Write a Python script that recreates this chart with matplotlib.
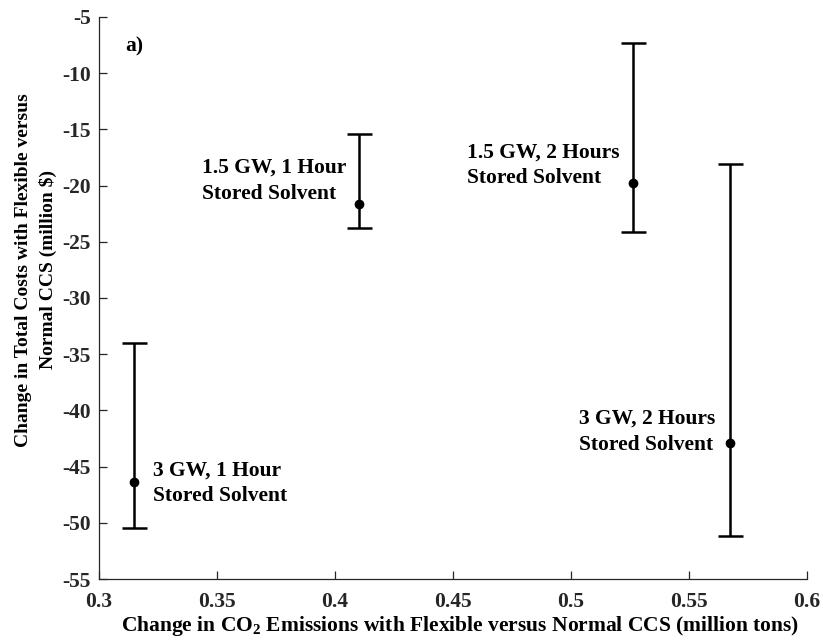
import matplotlib
matplotlib.use('Agg')
import matplotlib.pyplot as plt

plt.rcParams['font.family'] = ['Liberation Serif', 'DejaVu Serif']
plt.rcParams['font.weight'] = 'bold'
plt.rcParams['axes.unicode_minus'] = False
plt.rcParams['mathtext.fontset'] = 'custom'
plt.rcParams['mathtext.rm'] = 'Liberation Serif:bold'
plt.rcParams['mathtext.bf'] = 'Liberation Serif:bold'
plt.rcParams['mathtext.default'] = 'rm'

# data
co2 = [0.3148, 0.4103, 0.5264, 0.5674]
cost = [-46.4, -21.6, -19.8, -42.9]
cost_hi = [-34.0, -15.4, -7.3, -18.1]
cost_lo = [-50.5, -23.8, -24.1, -51.2]
names = ['3 GW, 1 Hour\nStored Solvent',
         '1.5 GW, 1 Hour\nStored Solvent',
         '1.5 GW, 2 Hours\nStored Solvent',
         '3 GW, 2 Hours\nStored Solvent']
label_x = [0.3229, 0.3436, 0.4559, 0.5035]
label_y = [-46.5, -19.6, -18.2, -41.9]

err_lo = [c - l for c, l in zip(cost, cost_lo)]
err_hi = [h - c for c, h in zip(cost, cost_hi)]

fs = 15.5

fig = plt.figure(figsize=(8.23, 6.43), dpi=100)
ax = fig.add_axes([0.1203, 0.0995, 0.8603, 0.8741])

ax.errorbar(co2, cost, yerr=[err_lo, err_hi], fmt='o', color='black',
            markersize=6, elinewidth=1.8, capsize=9, capthick=1.8)

for x, y, n in zip(label_x, label_y, names):
    ax.text(x, y, n, fontsize=fs, fontweight='bold', ha='left', va='center',
            linespacing=1.4)

ax.text(0.311, -7.6, 'a)', fontsize=fs, fontweight='bold', ha='left', va='center')

ax.set_xlim(0.3, 0.6)
ax.set_ylim(-55, -5)
ax.set_xticks([0.3, 0.35, 0.4, 0.45, 0.5, 0.55, 0.6])
ax.set_xticklabels(['0.3', '0.35', '0.4', '0.45', '0.5', '0.55', '0.6'])
ax.set_yticks(range(-55, -4, 5))

for s in ['top', 'right']:
    ax.spines[s].set_visible(False)
for s in ['left', 'bottom']:
    ax.spines[s].set_color('#262626')
    ax.spines[s].set_linewidth(0.9)

ax.tick_params(direction='in', length=6, width=0.9, color='#262626',
               labelsize=fs)
ax.tick_params(axis='x', pad=9)
ax.tick_params(axis='y', pad=6)
for t in ax.get_xticklabels() + ax.get_yticklabels():
    t.set_fontweight('bold')
    t.set_color('#262626')

ax.set_xlabel('Change in CO$_2$ Emissions with Flexible versus Normal CCS (million tons)',
              fontsize=fs, fontweight='bold')
ax.xaxis.set_label_coords(0.51, -0.062)
ax.set_ylabel('Change in Total Costs with Flexible versus\nNormal CCS (million $)',
              fontsize=14, fontweight='bold', linespacing=1.45)
ax.yaxis.set_label_coords(-0.06, 0.55)

fig.savefig('out.png', dpi=100)
